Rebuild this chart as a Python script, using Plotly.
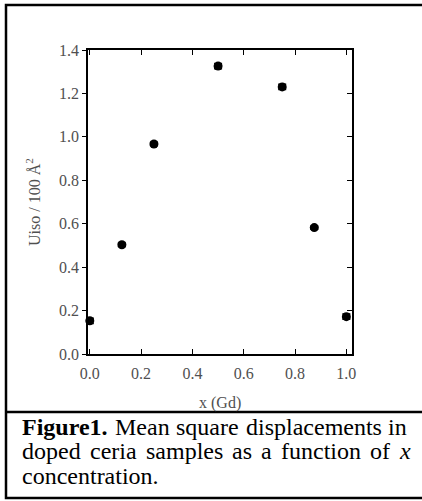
import plotly.graph_objects as go

# ---- data ----
x_gd = [0.0, 0.125, 0.25, 0.5, 0.75, 0.875, 1.0]
u_iso = [0.153, 0.503, 0.967, 1.326, 1.230, 0.582, 0.172]
u_err = [0.012, 0.008, 0.008, 0.012, 0.012, 0.008, 0.012]
x_ticks = [0.0, 0.2, 0.4, 0.6, 0.8, 1.0]
y_ticks = [0.0, 0.2, 0.4, 0.6, 0.8, 1.0, 1.2, 1.4]
caption_line1 = ["<b>Figure1.</b>", "Mean", "square", "displacements", "in"]
caption_line2 = ["doped", "ceria", "samples", "as", "a", "function", "of", "<i>x</i>"]
caption_line3 = "concentration."

W, H = 422, 501
L, R, T, B = 88, 352, 50, 354

def X(px):
    return (px - L) / (R - L)

def Y(py):
    return (B - py) / (B - T)

# Times metrics (per 1000 em) for justified caption layout
reg = dict(a=444, b=500, c=444, d=500, e=444, f=333, g=500, h=500, i=278, j=278, k=500,
           l=278, m=778, n=500, o=500, p=500, q=500, r=333, s=389, t=278, u=500, v=500,
           w=722, x=500, y=500, z=444, M=889)
bold = {"F": 611, "i": 278, "g": 500, "u": 556, "r": 444, "e": 444, "1": 500, ".": 250}
FS = 24

def wwidth(word):
    if word.startswith("<b>"):
        s = word[3:-4]
        return sum(bold.get(c, 500) for c in s) * FS / 1000
    if word.startswith("<i>"):
        return 444 * FS / 1000
    return sum(reg.get(c, 500) if c != "." else 250 for c in word) * FS / 1000

fig = go.Figure()
fig.add_trace(go.Scatter(
    x=x_gd, y=u_iso, mode="markers",
    marker=dict(color="black", size=9, symbol="circle"),
    error_y=dict(type="data", array=u_err, color="black", thickness=1.5, width=4),
    showlegend=False, cliponaxis=False,
))
# invisible trace for top/right axes
fig.add_trace(go.Scatter(x=[0.5], y=[0.7], xaxis="x2", yaxis="y2", mode="markers",
                         marker=dict(opacity=0), showlegend=False, hoverinfo="skip"))

tickfont = dict(family="Liberation Serif", size=16, color="#505050")
xr = [-0.007, 1.022]
yr = [0, 1.4]
fig.update_layout(
    width=W, height=H,
    margin=dict(l=L, r=W - R, t=T, b=H - B),
    paper_bgcolor="white", plot_bgcolor="white",
    xaxis=dict(range=xr, tickvals=x_ticks, ticktext=[f"{v:.1f}" for v in x_ticks],
               ticks="inside", ticklen=5, tickwidth=1.2, tickcolor="black",
               showline=True, linecolor="black", linewidth=1.5, mirror=True,
               showgrid=False, zeroline=False, tickfont=tickfont, ticklabelstandoff=4),
    yaxis=dict(range=yr, tickvals=y_ticks, ticktext=[f"{v:.1f}" for v in y_ticks],
               ticks="outside", ticklen=4, tickwidth=1.2, tickcolor="black",
               showline=True, linecolor="black", linewidth=1.5, mirror=True,
               showgrid=False, zeroline=False, tickfont=tickfont),
    xaxis2=dict(range=xr, overlaying="x", side="top", tickvals=x_ticks, showticklabels=False,
                ticks="inside", ticklen=5, tickwidth=1.2, tickcolor="black",
                showgrid=False, zeroline=False, showline=False),
    yaxis2=dict(range=yr, overlaying="y", side="right", tickvals=y_ticks, showticklabels=False,
                ticks="inside", ticklen=5, tickwidth=1.2, tickcolor="black",
                showgrid=False, zeroline=False, showline=False),
)

annotations = []
# axis titles
annotations.append(dict(text="x (Gd)", x=X(220), y=Y(403), xref="paper", yref="paper",
                        showarrow=False, xanchor="center", yanchor="middle",
                        font=dict(family="Liberation Serif", size=16, color="#505050")))
annotations.append(dict(text="Uiso / 100 Å<sup>2</sup>", x=X(33), y=Y(202), xref="paper", yref="paper",
                        showarrow=False, xanchor="center", yanchor="middle", textangle=-90,
                        font=dict(family="Liberation Serif", size=16, color="#505050")))

capfont = dict(family="Liberation Serif", size=FS, color="black")

def justified(words, left, right, ycenter):
    total = sum(wwidth(w) for w in words)
    gap = (right - left - total) / (len(words) - 1)
    pos = left
    for w in words:
        annotations.append(dict(text=w, x=X(pos), y=Y(ycenter), xref="paper", yref="paper",
                                showarrow=False, xanchor="left", yanchor="middle",
                                font=capfont, borderpad=0))
        pos += wwidth(w) + gap

justified(caption_line1, 21, 406, 427)
justified(caption_line2, 21, 409, 451)
annotations.append(dict(text=caption_line3, x=X(21), y=Y(476), xref="paper", yref="paper",
                        showarrow=False, xanchor="left", yanchor="middle", font=capfont, borderpad=0))
fig.update_layout(annotations=annotations)

# frame and separator
fig.add_shape(type="rect", xref="paper", yref="paper", x0=X(6), x1=X(426), y0=Y(5), y1=Y(498),
              line=dict(color="black", width=2.5), layer="above")
fig.add_shape(type="line", xref="paper", yref="paper", x0=X(6), x1=X(426), y0=Y(412), y1=Y(412),
              line=dict(color="black", width=2.5), layer="above")

fig.write_html("out.html", config={"displayModeBar": False},
               post_script="document.body.style.margin='0';document.body.style.overflow='hidden';")
